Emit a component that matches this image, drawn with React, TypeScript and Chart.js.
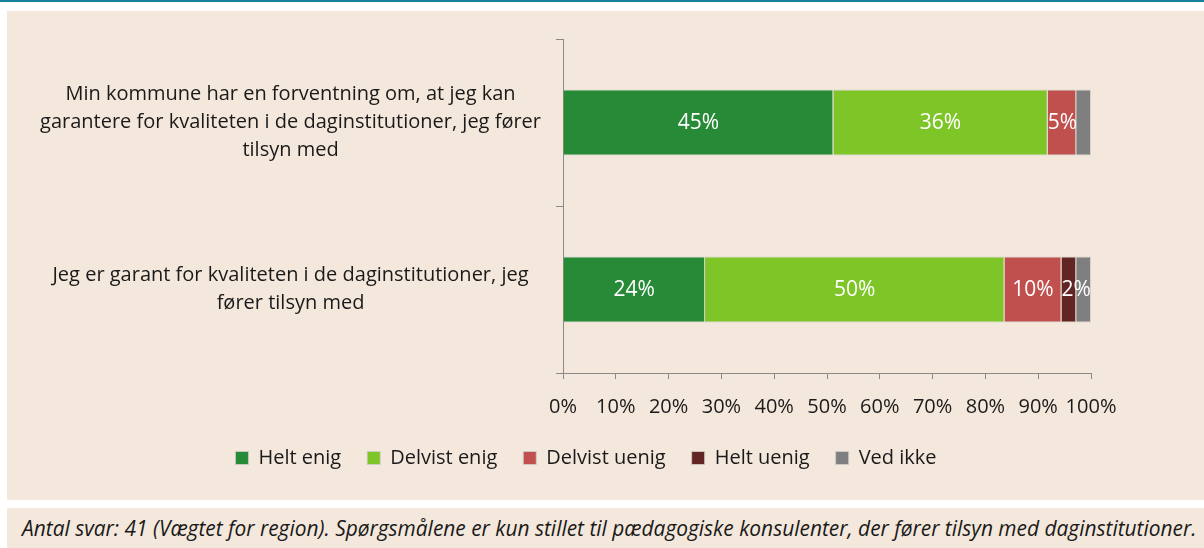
import React, { useEffect, useRef } from "react";
import { Chart, registerables } from "chart.js";

Chart.register(...registerables);

// ---------- data ----------
const categories: string[][] = [
  [
    "Min kommune har en forventning om, at jeg kan",
    "garantere for kvaliteten i de daginstitutioner, jeg fører",
    "tilsyn med",
  ],
  ["Jeg er garant for kvaliteten i de daginstitutioner, jeg", "fører tilsyn med"],
];
const seriesNames = ["Helt enig", "Delvist enig", "Delvist uenig", "Helt uenig", "Ved ikke"];
const heltEnig = [51.2, 26.9];
const delvistEnig = [40.6, 56.7];
const delvistUenig = [5.4, 10.8];
const heltUenig = [0, 2.8];
const vedIkke = [2.8, 2.8];
const heltEnigLabels = ["45%", "24%"];
const delvistEnigLabels = ["36%", "50%"];
const delvistUenigLabels = ["5%", "10%"];
const heltUenigLabels = ["", "2%"];
const vedIkkeLabels = ["", ""];
const xMin = 0;
const xMax = 100;
const xStep = 10;
const footnote =
  "Antal svar: 41 (Vægtet for region). Spørgsmålene er kun stillet til pædagogiske konsulenter, der fører tilsyn med daginstitutioner.";

// ---------- style ----------
const colors = ["#268a37", "#7ec628", "#c0504d", "#632523", "#7f7f7f"];
const FONT = "'Open Sans', 'Noto Sans', sans-serif";
const BEIGE = "#f4e8dc";
const AXIS = "#8a8a8a";
const FS = 20;

const seriesValues = [heltEnig, delvistEnig, delvistUenig, heltUenig, vedIkke];
const seriesLabels = [heltEnigLabels, delvistEnigLabels, delvistUenigLabels, heltUenigLabels, vedIkkeLabels];

const valueLabelPlugin = {
  id: "valueLabels",
  afterLayout(chart: any) {
    // let the category labels use the free space left of the axis box
    const y = chart.scales.y;
    if (y) y.left = 0;
  },
  afterDatasetsDraw(chart: any) {
    const ctx = chart.ctx;
    ctx.save();
    ctx.font = `21px ${FONT}`;
    ctx.fillStyle = "#ffffff";
    ctx.textBaseline = "middle";
    ctx.textAlign = "center";
    chart.data.datasets.forEach((_ds: any, di: number) => {
      const meta = chart.getDatasetMeta(di);
      meta.data.forEach((bar: any, i: number) => {
        const text = seriesLabels[di][i];
        if (!text) return;
        const p = bar.getProps(["x", "base", "y"], true);
        const left = Math.min(p.x, p.base);
        const right = Math.max(p.x, p.base);
        const w = ctx.measureText(text).width;
        let cx = (left + right) / 2;
        if (w > right - left) cx = left + w / 2;
        ctx.fillText(text, cx, p.y + 1);
      });
    });
    ctx.restore();
  },
};

export default function App() {
  const canvasRef = useRef<HTMLCanvasElement | null>(null);

  useEffect(() => {
    if (!canvasRef.current) return;
    Chart.defaults.font.family = FONT;
    const chart = new Chart(canvasRef.current, {
      type: "bar",
      data: {
        labels: categories,
        datasets: seriesNames.map((name, k) => ({
          label: name,
          data: seriesValues[k],
          backgroundColor: colors[k],
          borderColor: "rgba(205,205,200,0.85)",
          borderWidth: 1,
          barPercentage: 0.395,
          categoryPercentage: 1,
        })),
      },
      options: {
        indexAxis: "y",
        responsive: false,
        animation: false,
        devicePixelRatio: 1,
        layout: { padding: { left: 74, right: 113, top: 28, bottom: 22 } },
        scales: {
          x: {
            stacked: true,
            min: xMin,
            max: xMax,
            ticks: {
              stepSize: xStep,
              padding: 16,
              maxRotation: 0,
              minRotation: 0,
              autoSkip: false,
              color: "#1a1a1a",
              font: { size: FS, family: FONT },
              callback: (v: any) => `${v}%`,
            },
            grid: { display: true, drawOnChartArea: false, tickLength: 6, color: AXIS },
            border: { display: true, color: AXIS },
            afterFit: (scale: any) => {
              scale.height = 49;
            },
          },
          y: {
            stacked: true,
            ticks: {
              crossAlign: "center",
              padding: 15,
              color: "#1a1a1a",
              font: { size: FS, family: FONT, lineHeight: 1.4 },
            },
            grid: { display: true, drawOnChartArea: false, tickLength: 7, color: AXIS },
            border: { display: true, color: AXIS },
            afterFit: (scale: any) => {
              scale.width = 482;
              scale.paddingTop = 0;
              scale.paddingBottom = 0;
            },
          },
        },
        plugins: {
          legend: {
            position: "bottom",
            labels: {
              boxWidth: 13,
              boxHeight: 13,
              padding: 26,
              color: "#1a1a1a",
              font: { size: FS, family: FONT },
            },
          },
          tooltip: { enabled: false },
        },
      },
      plugins: [valueLabelPlugin],
    } as any);
    return () => chart.destroy();
  }, []);

  return (
    <div
      style={{
        position: "fixed",
        left: 0,
        top: 0,
        width: 1204,
        height: 548,
        background: "#ffffff",
        overflow: "hidden",
      }}
    >
      <div style={{ position: "absolute", left: 0, top: 0, width: 1204, height: 2, background: "#17809c" }} />
      <div style={{ position: "absolute", left: 7, top: 11, width: 1197, height: 489, background: BEIGE }}>
        <canvas ref={canvasRef} width={1197} height={489} style={{ display: "block" }} />
      </div>
      <div
        style={{
          position: "absolute",
          left: 7,
          top: 508,
          width: 1197,
          height: 40,
          background: BEIGE,
        }}
      >
        <div
          style={{
            position: "absolute",
            left: 15,
            top: 0,
            height: 40,
            lineHeight: "40px",
            whiteSpace: "nowrap",
            fontFamily: FONT,
            fontStyle: "italic",
            fontSize: 20.9,
            color: "#1a1a1a",
          }}
        >
          {footnote}
        </div>
      </div>
    </div>
  );
}
